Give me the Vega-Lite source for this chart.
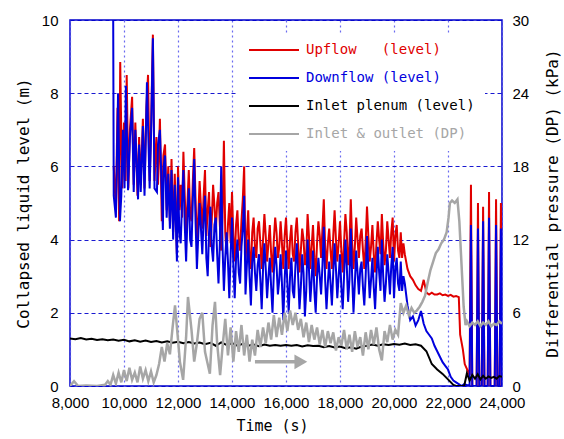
{
  "$schema": "https://vega.github.io/schema/vega-lite/v6.json",
  "width": 432,
  "height": 366,
  "autosize": {"type": "none"},
  "padding": {"left": 70, "top": 20, "right": 62, "bottom": 53},
  "datasets": {
    "arrow": [{"t": 14850, "t2": 16550, "v": 0.66}],
    "main": [
      {"s":"U","t":9620,"v":6.0},{"s":"U","t":9700,"v":4.8},{"s":"U","t":9760,"v":7.6},{"s":"U","t":9820,"v":4.5},{"s":"U","t":9860,"v":8.85},{"s":"U","t":9930,"v":5.4},{"s":"U","t":10000,"v":7.2},{"s":"U","t":10060,"v":5.6},{"s":"U","t":10100,"v":8.5},{"s":"U","t":10160,"v":5.4},{"s":"U","t":10220,"v":7.0},{"s":"U","t":10300,"v":7.9},{"s":"U","t":10360,"v":5.5},{"s":"U","t":10420,"v":7.2},{"s":"U","t":10500,"v":5.2},{"s":"U","t":10560,"v":6.8},{"s":"U","t":10620,"v":5.5},{"s":"U","t":10700,"v":7.3},{"s":"U","t":10760,"v":5.4},{"s":"U","t":10830,"v":7.6},{"s":"U","t":10890,"v":8.5},{"s":"U","t":10950,"v":5.6},{"s":"U","t":11000,"v":7.0},{"s":"U","t":11070,"v":9.6},{"s":"U","t":11130,"v":5.6},{"s":"U","t":11200,"v":6.8},{"s":"U","t":11260,"v":5.5},{"s":"U","t":11330,"v":7.3},{"s":"U","t":11400,"v":4.5},{"s":"U","t":11460,"v":6.3},{"s":"U","t":11520,"v":6.6},{"s":"U","t":11580,"v":4.8},{"s":"U","t":11640,"v":6.0},{"s":"U","t":11700,"v":4.5},{"s":"U","t":11760,"v":6.2},{"s":"U","t":11820,"v":4.2},{"s":"U","t":11880,"v":5.8},{"s":"U","t":11960,"v":3.6},
      {"s":"U","t":12000,"v":6.0},{"s":"U","t":12050,"v":4.8},{"s":"U","t":12100,"v":5.5},{"s":"U","t":12150,"v":4.6},{"s":"U","t":12200,"v":6.4},{"s":"U","t":12250,"v":5.2},{"s":"U","t":12300,"v":4.2},{"s":"U","t":12350,"v":5.0},{"s":"U","t":12400,"v":5.9},{"s":"U","t":12450,"v":4.7},{"s":"U","t":12500,"v":4.5},{"s":"U","t":12550,"v":5.6},{"s":"U","t":12600,"v":6.5},{"s":"U","t":12650,"v":5.1},{"s":"U","t":12700,"v":4.0},{"s":"U","t":12750,"v":4.6},{"s":"U","t":12800,"v":5.6},{"s":"U","t":12850,"v":4.9},{"s":"U","t":12900,"v":4.3},{"s":"U","t":12950,"v":5.2},{"s":"U","t":13000,"v":5.9},{"s":"U","t":13050,"v":4.1},{"s":"U","t":13100,"v":4.8},{"s":"U","t":13150,"v":5.3},{"s":"U","t":13200,"v":3.8},{"s":"U","t":13250,"v":4.5},{"s":"U","t":13300,"v":5.5},{"s":"U","t":13350,"v":4.9},{"s":"U","t":13400,"v":4.2},{"s":"U","t":13450,"v":5.0},{"s":"U","t":13500,"v":5.3},{"s":"U","t":13550,"v":4.4},{"s":"U","t":13600,"v":3.7},{"s":"U","t":13650,"v":4.6},{"s":"U","t":13700,"v":6.7},{"s":"U","t":13750,"v":4.2},{"s":"U","t":13800,"v":3.6},{"s":"U","t":13850,"v":4.4},{"s":"U","t":13900,"v":5.0},{"s":"U","t":13950,"v":3.9},
      {"s":"U","t":14000,"v":5.3},{"s":"U","t":14050,"v":4.1},{"s":"U","t":14100,"v":3.4},{"s":"U","t":14150,"v":4.4},{"s":"U","t":14200,"v":4.8},{"s":"U","t":14250,"v":3.9},{"s":"U","t":14300,"v":3.7},{"s":"U","t":14350,"v":4.5},{"s":"U","t":14400,"v":5.1},{"s":"U","t":14450,"v":6.0},{"s":"U","t":14500,"v":3.4},{"s":"U","t":14550,"v":4.1},{"s":"U","t":14600,"v":4.8},{"s":"U","t":14650,"v":3.6},{"s":"U","t":14700,"v":3.2},{"s":"U","t":14750,"v":4.2},{"s":"U","t":14800,"v":4.6},{"s":"U","t":14850,"v":3.8},{"s":"U","t":14900,"v":3.5},{"s":"U","t":14950,"v":4.3},{"s":"U","t":15000,"v":4.5},{"s":"U","t":15050,"v":3.9},{"s":"U","t":15100,"v":3.2},{"s":"U","t":15150,"v":4.0},{"s":"U","t":15200,"v":4.7},{"s":"U","t":15250,"v":4.1},{"s":"U","t":15300,"v":3.4},{"s":"U","t":15350,"v":3.9},{"s":"U","t":15400,"v":4.4},{"s":"U","t":15450,"v":3.6},{"s":"U","t":15500,"v":3.1},{"s":"U","t":15550,"v":4.0},{"s":"U","t":15600,"v":4.6},{"s":"U","t":15650,"v":4.2},{"s":"U","t":15700,"v":3.5},{"s":"U","t":15750,"v":3.8},{"s":"U","t":15800,"v":4.5},{"s":"U","t":15850,"v":3.9},{"s":"U","t":15900,"v":3.2},{"s":"U","t":15950,"v":4.1},
      {"s":"U","t":16000,"v":4.6},{"s":"U","t":16050,"v":3.8},{"s":"U","t":16100,"v":3.2},{"s":"U","t":16150,"v":4.0},{"s":"U","t":16200,"v":4.4},{"s":"U","t":16250,"v":3.6},{"s":"U","t":16300,"v":3.4},{"s":"U","t":16350,"v":4.2},{"s":"U","t":16400,"v":4.6},{"s":"U","t":16450,"v":3.9},{"s":"U","t":16500,"v":3.1},{"s":"U","t":16550,"v":3.7},{"s":"U","t":16600,"v":4.3},{"s":"U","t":16650,"v":4.0},{"s":"U","t":16700,"v":3.3},{"s":"U","t":16750,"v":3.6},{"s":"U","t":16800,"v":4.7},{"s":"U","t":16850,"v":4.1},{"s":"U","t":16900,"v":3.2},{"s":"U","t":16950,"v":3.8},{"s":"U","t":17000,"v":4.4},{"s":"U","t":17050,"v":3.5},{"s":"U","t":17100,"v":3.0},{"s":"U","t":17150,"v":3.9},{"s":"U","t":17200,"v":4.5},{"s":"U","t":17250,"v":4.1},{"s":"U","t":17300,"v":3.5},{"s":"U","t":17350,"v":4.3},{"s":"U","t":17400,"v":5.1},{"s":"U","t":17450,"v":3.8},{"s":"U","t":17500,"v":3.2},{"s":"U","t":17550,"v":3.9},{"s":"U","t":17600,"v":4.3},{"s":"U","t":17650,"v":3.7},{"s":"U","t":17700,"v":3.2},{"s":"U","t":17750,"v":4.1},{"s":"U","t":17800,"v":4.8},{"s":"U","t":17850,"v":4.0},{"s":"U","t":17900,"v":3.4},{"s":"U","t":17950,"v":3.9},
      {"s":"U","t":18000,"v":4.5},{"s":"U","t":18050,"v":3.7},{"s":"U","t":18100,"v":3.1},{"s":"U","t":18150,"v":3.9},{"s":"U","t":18200,"v":4.7},{"s":"U","t":18250,"v":4.2},{"s":"U","t":18300,"v":3.3},{"s":"U","t":18350,"v":3.8},{"s":"U","t":18400,"v":5.1},{"s":"U","t":18450,"v":3.9},{"s":"U","t":18500,"v":3.2},{"s":"U","t":18550,"v":3.8},{"s":"U","t":18600,"v":4.6},{"s":"U","t":18650,"v":4.0},{"s":"U","t":18700,"v":3.5},{"s":"U","t":18750,"v":4.1},{"s":"U","t":18800,"v":4.3},{"s":"U","t":18850,"v":3.7},{"s":"U","t":18900,"v":3.2},{"s":"U","t":18950,"v":3.9},{"s":"U","t":19000,"v":4.9},{"s":"U","t":19050,"v":4.1},{"s":"U","t":19100,"v":3.4},{"s":"U","t":19150,"v":3.8},{"s":"U","t":19200,"v":4.4},{"s":"U","t":19250,"v":3.6},{"s":"U","t":19300,"v":3.1},{"s":"U","t":19350,"v":3.9},{"s":"U","t":19400,"v":4.5},{"s":"U","t":19450,"v":4.0},{"s":"U","t":19500,"v":3.6},{"s":"U","t":19550,"v":4.7},{"s":"U","t":19600,"v":3.9},{"s":"U","t":19650,"v":3.3},{"s":"U","t":19700,"v":3.7},{"s":"U","t":19750,"v":4.5},{"s":"U","t":19800,"v":4.0},{"s":"U","t":19850,"v":3.5},{"s":"U","t":19900,"v":4.2},{"s":"U","t":19950,"v":4.6},
      {"s":"U","t":20000,"v":3.4},{"s":"U","t":20050,"v":4.1},{"s":"U","t":20100,"v":4.4},{"s":"U","t":20150,"v":3.7},{"s":"U","t":20200,"v":3.5},{"s":"U","t":20250,"v":4.2},{"s":"U","t":20300,"v":3.5},{"s":"U","t":20350,"v":3.9},{"s":"U","t":20400,"v":3.6},
      {"s":"U","t":20500,"v":3.2},{"s":"U","t":20600,"v":3.0},{"s":"U","t":20700,"v":2.9},{"s":"U","t":20800,"v":2.75},{"s":"U","t":20900,"v":2.65},{"s":"U","t":21000,"v":2.6},{"s":"U","t":21100,"v":2.9},{"s":"U","t":21200,"v":2.55},{"s":"U","t":21300,"v":2.5},{"s":"U","t":21400,"v":2.55},{"s":"U","t":21500,"v":2.5},{"s":"U","t":21600,"v":2.5},{"s":"U","t":21700,"v":2.53},{"s":"U","t":21800,"v":2.48},{"s":"U","t":21900,"v":2.5},{"s":"U","t":22000,"v":2.46},{"s":"U","t":22100,"v":2.49},{"s":"U","t":22200,"v":2.44},{"s":"U","t":22300,"v":2.46},{"s":"U","t":22400,"v":2.43},{"s":"U","t":22450,"v":1.4},{"s":"U","t":22550,"v":1.0},{"s":"U","t":22620,"v":0.6},{"s":"U","t":22800,"v":0.3},{"s":"U","t":22850,"v":5.5},{"s":"U","t":22900,"v":0},{"s":"U","t":23060,"v":0},{"s":"U","t":23110,"v":5.0},{"s":"U","t":23160,"v":0},{"s":"U","t":23250,"v":0},{"s":"U","t":23300,"v":4.9},{"s":"U","t":23350,"v":0},{"s":"U","t":23470,"v":0},{"s":"U","t":23520,"v":5.3},{"s":"U","t":23570,"v":0},{"s":"U","t":23730,"v":0},{"s":"U","t":23780,"v":5.1},{"s":"U","t":23830,"v":0},{"s":"U","t":23910,"v":0},{"s":"U","t":23960,"v":5.0},{"s":"U","t":24000,"v":0.2},
      {"s":"D","t":9600,"v":10},{"s":"D","t":9620,"v":5.2},{"s":"D","t":9700,"v":4.6},{"s":"D","t":9780,"v":8.0},{"s":"D","t":9850,"v":4.5},{"s":"D","t":9900,"v":5.2},{"s":"D","t":9960,"v":7.0},{"s":"D","t":10020,"v":5.4},{"s":"D","t":10070,"v":8.2},{"s":"D","t":10150,"v":5.35},{"s":"D","t":10220,"v":6.8},{"s":"D","t":10300,"v":7.6},{"s":"D","t":10360,"v":5.3},{"s":"D","t":10420,"v":7.0},{"s":"D","t":10520,"v":5.1},{"s":"D","t":10560,"v":6.6},{"s":"D","t":10620,"v":5.3},{"s":"D","t":10700,"v":7.1},{"s":"D","t":10760,"v":5.2},{"s":"D","t":10850,"v":8.3},{"s":"D","t":10950,"v":5.4},{"s":"D","t":11000,"v":6.8},{"s":"D","t":11070,"v":9.5},{"s":"D","t":11130,"v":5.4},{"s":"D","t":11220,"v":5.3},{"s":"D","t":11260,"v":6.6},{"s":"D","t":11330,"v":7.0},{"s":"D","t":11440,"v":4.26},{"s":"D","t":11470,"v":6.0},{"s":"D","t":11520,"v":6.3},{"s":"D","t":11580,"v":4.6},{"s":"D","t":11640,"v":5.8},{"s":"D","t":11700,"v":4.3},{"s":"D","t":11760,"v":5.9},{"s":"D","t":11820,"v":4.0},{"s":"D","t":11880,"v":5.5},{"s":"D","t":11960,"v":3.4},
      {"s":"D","t":12000,"v":5.7},{"s":"D","t":12050,"v":4.2},{"s":"D","t":12100,"v":3.9},{"s":"D","t":12150,"v":5.0},{"s":"D","t":12200,"v":5.9},{"s":"D","t":12250,"v":4.4},{"s":"D","t":12300,"v":3.4},{"s":"D","t":12350,"v":4.6},{"s":"D","t":12400,"v":5.4},{"s":"D","t":12450,"v":4.0},{"s":"D","t":12500,"v":3.8},{"s":"D","t":12550,"v":5.1},{"s":"D","t":12600,"v":6.2},{"s":"D","t":12650,"v":4.5},{"s":"D","t":12700,"v":3.2},{"s":"D","t":12750,"v":4.1},{"s":"D","t":12800,"v":5.0},{"s":"D","t":12850,"v":4.3},{"s":"D","t":12900,"v":3.6},{"s":"D","t":12950,"v":4.6},{"s":"D","t":13000,"v":5.2},{"s":"D","t":13050,"v":3.5},{"s":"D","t":13100,"v":3.0},{"s":"D","t":13150,"v":4.2},{"s":"D","t":13200,"v":4.9},{"s":"D","t":13250,"v":3.8},{"s":"D","t":13300,"v":3.4},{"s":"D","t":13350,"v":4.4},{"s":"D","t":13400,"v":4.6},{"s":"D","t":13450,"v":3.6},{"s":"D","t":13500,"v":2.8},{"s":"D","t":13550,"v":3.9},{"s":"D","t":13600,"v":6.0},{"s":"D","t":13650,"v":3.8},{"s":"D","t":13700,"v":2.6},{"s":"D","t":13750,"v":3.5},{"s":"D","t":13800,"v":4.2},{"s":"D","t":13850,"v":3.4},{"s":"D","t":13900,"v":2.4},{"s":"D","t":13950,"v":3.6},
      {"s":"D","t":14000,"v":4.6},{"s":"D","t":14050,"v":3.3},{"s":"D","t":14100,"v":2.4},{"s":"D","t":14150,"v":3.5},{"s":"D","t":14200,"v":4.0},{"s":"D","t":14250,"v":3.1},{"s":"D","t":14300,"v":2.8},{"s":"D","t":14350,"v":3.8},{"s":"D","t":14400,"v":4.3},{"s":"D","t":14450,"v":5.2},{"s":"D","t":14500,"v":2.5},{"s":"D","t":14550,"v":3.3},{"s":"D","t":14600,"v":4.0},{"s":"D","t":14650,"v":3.0},{"s":"D","t":14700,"v":2.2},{"s":"D","t":14750,"v":3.4},{"s":"D","t":14800,"v":3.8},{"s":"D","t":14850,"v":3.1},{"s":"D","t":14900,"v":2.6},{"s":"D","t":14950,"v":3.3},{"s":"D","t":15000,"v":3.6},{"s":"D","t":15050,"v":2.9},{"s":"D","t":15100,"v":2.1},{"s":"D","t":15150,"v":3.2},{"s":"D","t":15200,"v":3.9},{"s":"D","t":15250,"v":3.2},{"s":"D","t":15300,"v":2.4},{"s":"D","t":15350,"v":3.0},{"s":"D","t":15400,"v":3.5},{"s":"D","t":15450,"v":2.7},{"s":"D","t":15500,"v":2.0},{"s":"D","t":15550,"v":3.1},{"s":"D","t":15600,"v":3.8},{"s":"D","t":15650,"v":3.3},{"s":"D","t":15700,"v":2.5},{"s":"D","t":15750,"v":2.9},{"s":"D","t":15800,"v":3.6},{"s":"D","t":15850,"v":2.8},{"s":"D","t":15900,"v":1.8},{"s":"D","t":15950,"v":2.9},
      {"s":"D","t":16000,"v":3.7},{"s":"D","t":16050,"v":2.8},{"s":"D","t":16100,"v":2.0},{"s":"D","t":16150,"v":3.0},{"s":"D","t":16200,"v":3.5},{"s":"D","t":16250,"v":2.6},{"s":"D","t":16300,"v":2.4},{"s":"D","t":16350,"v":3.3},{"s":"D","t":16400,"v":3.9},{"s":"D","t":16450,"v":3.0},{"s":"D","t":16500,"v":2.1},{"s":"D","t":16550,"v":2.7},{"s":"D","t":16600,"v":3.6},{"s":"D","t":16650,"v":3.1},{"s":"D","t":16700,"v":1.9},{"s":"D","t":16750,"v":2.6},{"s":"D","t":16800,"v":4.0},{"s":"D","t":16850,"v":3.2},{"s":"D","t":16900,"v":2.3},{"s":"D","t":16950,"v":2.9},{"s":"D","t":17000,"v":3.7},{"s":"D","t":17050,"v":2.6},{"s":"D","t":17100,"v":2.0},{"s":"D","t":17150,"v":3.0},{"s":"D","t":17200,"v":3.5},{"s":"D","t":17250,"v":3.0},{"s":"D","t":17300,"v":2.5},{"s":"D","t":17350,"v":3.3},{"s":"D","t":17400,"v":4.35},{"s":"D","t":17450,"v":2.9},{"s":"D","t":17500,"v":2.1},{"s":"D","t":17550,"v":2.8},{"s":"D","t":17600,"v":3.4},{"s":"D","t":17650,"v":2.8},{"s":"D","t":17700,"v":2.2},{"s":"D","t":17750,"v":3.1},{"s":"D","t":17800,"v":3.9},{"s":"D","t":17850,"v":3.2},{"s":"D","t":17900,"v":2.4},{"s":"D","t":17950,"v":3.0},
      {"s":"D","t":18000,"v":3.6},{"s":"D","t":18050,"v":2.7},{"s":"D","t":18100,"v":2.1},{"s":"D","t":18150,"v":3.0},{"s":"D","t":18200,"v":4.0},{"s":"D","t":18250,"v":3.3},{"s":"D","t":18300,"v":2.3},{"s":"D","t":18350,"v":2.9},{"s":"D","t":18400,"v":4.3},{"s":"D","t":18450,"v":3.0},{"s":"D","t":18500,"v":2.0},{"s":"D","t":18550,"v":2.8},{"s":"D","t":18600,"v":3.7},{"s":"D","t":18650,"v":3.1},{"s":"D","t":18700,"v":2.5},{"s":"D","t":18750,"v":3.2},{"s":"D","t":18800,"v":3.4},{"s":"D","t":18850,"v":2.7},{"s":"D","t":18900,"v":2.2},{"s":"D","t":18950,"v":3.0},{"s":"D","t":19000,"v":4.1},{"s":"D","t":19050,"v":3.2},{"s":"D","t":19100,"v":2.4},{"s":"D","t":19150,"v":2.9},{"s":"D","t":19200,"v":3.5},{"s":"D","t":19250,"v":2.7},{"s":"D","t":19300,"v":2.1},{"s":"D","t":19350,"v":3.0},{"s":"D","t":19400,"v":3.8},{"s":"D","t":19450,"v":3.1},{"s":"D","t":19500,"v":2.6},{"s":"D","t":19550,"v":4.0},{"s":"D","t":19600,"v":3.0},{"s":"D","t":19650,"v":2.3},{"s":"D","t":19700,"v":2.8},{"s":"D","t":19750,"v":3.6},{"s":"D","t":19800,"v":3.1},{"s":"D","t":19850,"v":2.5},{"s":"D","t":19900,"v":3.3},{"s":"D","t":19950,"v":3.8},
      {"s":"D","t":20000,"v":2.4},{"s":"D","t":20050,"v":3.2},{"s":"D","t":20100,"v":3.5},{"s":"D","t":20150,"v":2.8},{"s":"D","t":20200,"v":2.6},{"s":"D","t":20250,"v":3.4},{"s":"D","t":20300,"v":2.6},{"s":"D","t":20350,"v":3.0},{"s":"D","t":20400,"v":2.8},
      {"s":"D","t":20500,"v":2.2},{"s":"D","t":20600,"v":1.8},{"s":"D","t":20700,"v":1.9},{"s":"D","t":20800,"v":1.65},{"s":"D","t":20900,"v":1.8},{"s":"D","t":21000,"v":2.05},{"s":"D","t":21100,"v":1.7},{"s":"D","t":21200,"v":1.5},{"s":"D","t":21300,"v":1.4},{"s":"D","t":21400,"v":1.3},{"s":"D","t":21500,"v":1.1},{"s":"D","t":21600,"v":0.95},{"s":"D","t":21700,"v":0.8},{"s":"D","t":21800,"v":0.65},{"s":"D","t":21900,"v":0.55},{"s":"D","t":22000,"v":0.45},{"s":"D","t":22100,"v":0.25},{"s":"D","t":22200,"v":0.15},{"s":"D","t":22300,"v":0.1},{"s":"D","t":22400,"v":0.05},{"s":"D","t":22500,"v":0},{"s":"D","t":22600,"v":0.05},{"s":"D","t":22800,"v":0},{"s":"D","t":22850,"v":4.4},{"s":"D","t":22900,"v":0},{"s":"D","t":23060,"v":0},{"s":"D","t":23110,"v":4.3},{"s":"D","t":23160,"v":0},{"s":"D","t":23250,"v":0},{"s":"D","t":23300,"v":4.5},{"s":"D","t":23350,"v":0},{"s":"D","t":23470,"v":0},{"s":"D","t":23520,"v":4.6},{"s":"D","t":23570,"v":0},{"s":"D","t":23730,"v":0},{"s":"D","t":23780,"v":4.4},{"s":"D","t":23830,"v":0},{"s":"D","t":23910,"v":0},{"s":"D","t":23960,"v":4.3},{"s":"D","t":24000,"v":0},
      {"s":"P","t":8000,"v":1.3},{"s":"P","t":8200,"v":1.28},{"s":"P","t":8400,"v":1.31},{"s":"P","t":8600,"v":1.27},{"s":"P","t":8800,"v":1.29},{"s":"P","t":9000,"v":1.26},{"s":"P","t":9200,"v":1.28},{"s":"P","t":9400,"v":1.25},{"s":"P","t":9600,"v":1.27},{"s":"P","t":9800,"v":1.24},{"s":"P","t":10000,"v":1.26},{"s":"P","t":10200,"v":1.22},{"s":"P","t":10400,"v":1.25},{"s":"P","t":10600,"v":1.21},{"s":"P","t":10800,"v":1.24},{"s":"P","t":11000,"v":1.2},{"s":"P","t":11200,"v":1.23},{"s":"P","t":11400,"v":1.19},{"s":"P","t":11600,"v":1.22},{"s":"P","t":11800,"v":1.18},{"s":"P","t":12000,"v":1.21},{"s":"P","t":12200,"v":1.17},{"s":"P","t":12400,"v":1.2},{"s":"P","t":12600,"v":1.16},{"s":"P","t":12800,"v":1.19},{"s":"P","t":13000,"v":1.14},{"s":"P","t":13200,"v":1.18},{"s":"P","t":13400,"v":1.1},{"s":"P","t":13600,"v":1.19},{"s":"P","t":13800,"v":1.12},{"s":"P","t":14000,"v":1.17},{"s":"P","t":14200,"v":1.1},{"s":"P","t":14400,"v":1.15},{"s":"P","t":14600,"v":1.1},{"s":"P","t":14800,"v":1.13},{"s":"P","t":15000,"v":1.09},{"s":"P","t":15200,"v":1.13},{"s":"P","t":15400,"v":1.1},{"s":"P","t":15600,"v":1.12},{"s":"P","t":15800,"v":1.1},{"s":"P","t":16000,"v":1.12},{"s":"P","t":16200,"v":1.1},{"s":"P","t":16400,"v":1.12},{"s":"P","t":16600,"v":1.08},{"s":"P","t":16800,"v":1.11},{"s":"P","t":17000,"v":1.09},{"s":"P","t":17200,"v":1.1},{"s":"P","t":17400,"v":1.06},{"s":"P","t":17600,"v":1.09},{"s":"P","t":17800,"v":1.05},{"s":"P","t":18000,"v":1.08},{"s":"P","t":18200,"v":1.03},{"s":"P","t":18400,"v":1.06},{"s":"P","t":18600,"v":1.02},{"s":"P","t":18800,"v":1.08},{"s":"P","t":19000,"v":1.1},{"s":"P","t":19200,"v":1.13},{"s":"P","t":19400,"v":1.1},{"s":"P","t":19600,"v":1.14},{"s":"P","t":19800,"v":1.12},{"s":"P","t":20000,"v":1.15},{"s":"P","t":20200,"v":1.13},{"s":"P","t":20400,"v":1.16},{"s":"P","t":20600,"v":1.12},{"s":"P","t":20800,"v":1.14},{"s":"P","t":21000,"v":1.1},{"s":"P","t":21200,"v":0.95},{"s":"P","t":21400,"v":0.6},{"s":"P","t":21600,"v":0.45},{"s":"P","t":21800,"v":0.33},{"s":"P","t":22000,"v":0.18},{"s":"P","t":22200,"v":0.03},{"s":"P","t":22300,"v":0},{"s":"P","t":22600,"v":0},{"s":"P","t":22700,"v":0.35},{"s":"P","t":22800,"v":0.15},{"s":"P","t":22900,"v":0.3},{"s":"P","t":23000,"v":0.2},{"s":"P","t":23100,"v":0.32},{"s":"P","t":23200,"v":0.18},{"s":"P","t":23300,"v":0.28},{"s":"P","t":23400,"v":0.2},{"s":"P","t":23500,"v":0.26},{"s":"P","t":23600,"v":0.22},{"s":"P","t":23700,"v":0.25},{"s":"P","t":23800,"v":0.2},{"s":"P","t":23900,"v":0.27},{"s":"P","t":24000,"v":0.25},
      {"s":"G","t":8000,"v":0},{"s":"G","t":8150,"v":0.4},{"s":"G","t":8300,"v":0},{"s":"G","t":8600,"v":0.05},{"s":"G","t":9000,"v":0},{"s":"G","t":9300,"v":0.1},{"s":"G","t":9400,"v":0.4},{"s":"G","t":9500,"v":0.1},{"s":"G","t":9600,"v":0.9},{"s":"G","t":9700,"v":0.2},{"s":"G","t":9800,"v":1.1},{"s":"G","t":9900,"v":0.3},{"s":"G","t":10000,"v":1.3},{"s":"G","t":10100,"v":0.4},{"s":"G","t":10200,"v":1.5},{"s":"G","t":10300,"v":0.5},{"s":"G","t":10400,"v":1.1},{"s":"G","t":10500,"v":0.3},{"s":"G","t":10600,"v":1.6},{"s":"G","t":10700,"v":0.6},{"s":"G","t":10800,"v":1.3},{"s":"G","t":10900,"v":0.4},{"s":"G","t":11000,"v":1.2},{"s":"G","t":11100,"v":0.3},{"s":"G","t":11200,"v":0.9},{"s":"G","t":11300,"v":1.8},{"s":"G","t":11400,"v":3.2},{"s":"G","t":11500,"v":2.0},{"s":"G","t":11600,"v":3.5},{"s":"G","t":11700,"v":2.6},{"s":"G","t":11800,"v":4.8},{"s":"G","t":11890,"v":6.6},{"s":"G","t":12000,"v":3.8},{"s":"G","t":12070,"v":2.0},{"s":"G","t":12190,"v":0.5},{"s":"G","t":12300,"v":4.0},{"s":"G","t":12370,"v":7.3},{"s":"G","t":12500,"v":4.6},{"s":"G","t":12600,"v":2.0},{"s":"G","t":12700,"v":3.5},{"s":"G","t":12800,"v":5.5},{"s":"G","t":12900,"v":6.0},{"s":"G","t":13000,"v":2.8},{"s":"G","t":13100,"v":1.8},{"s":"G","t":13180,"v":1.0},{"s":"G","t":13280,"v":5.0},{"s":"G","t":13370,"v":6.9},{"s":"G","t":13450,"v":3.5},{"s":"G","t":13560,"v":0.9},{"s":"G","t":13650,"v":3.2},{"s":"G","t":13750,"v":5.5},{"s":"G","t":13850,"v":2.5},{"s":"G","t":13950,"v":4.8},{"s":"G","t":14050,"v":2.0},{"s":"G","t":14150,"v":4.5},{"s":"G","t":14250,"v":2.8},{"s":"G","t":14350,"v":5.0},{"s":"G","t":14450,"v":2.5},{"s":"G","t":14550,"v":4.2},{"s":"G","t":14650,"v":2.0},{"s":"G","t":14750,"v":3.8},{"s":"G","t":14850,"v":2.5},{"s":"G","t":14950,"v":4.6},{"s":"G","t":15050,"v":3.2},{"s":"G","t":15150,"v":4.8},{"s":"G","t":15250,"v":3.5},{"s":"G","t":15350,"v":5.2},{"s":"G","t":15450,"v":3.8},{"s":"G","t":15550,"v":5.8},{"s":"G","t":15650,"v":4.0},{"s":"G","t":15750,"v":5.6},{"s":"G","t":15850,"v":4.2},{"s":"G","t":15950,"v":6.0},{"s":"G","t":16050,"v":4.5},{"s":"G","t":16150,"v":6.2},{"s":"G","t":16250,"v":5.0},{"s":"G","t":16350,"v":6.0},{"s":"G","t":16450,"v":4.6},{"s":"G","t":16550,"v":5.5},{"s":"G","t":16650,"v":4.0},{"s":"G","t":16750,"v":5.2},{"s":"G","t":16850,"v":3.6},{"s":"G","t":16950,"v":5.0},{"s":"G","t":17050,"v":3.8},{"s":"G","t":17150,"v":4.8},{"s":"G","t":17250,"v":3.4},{"s":"G","t":17350,"v":4.6},{"s":"G","t":17450,"v":3.2},{"s":"G","t":17550,"v":4.5},{"s":"G","t":17650,"v":3.5},{"s":"G","t":17750,"v":4.4},{"s":"G","t":17850,"v":2.9},{"s":"G","t":17950,"v":4.0},{"s":"G","t":18050,"v":3.3},{"s":"G","t":18150,"v":4.6},{"s":"G","t":18250,"v":3.0},{"s":"G","t":18350,"v":4.2},{"s":"G","t":18450,"v":2.8},{"s":"G","t":18550,"v":4.5},{"s":"G","t":18650,"v":3.2},{"s":"G","t":18750,"v":4.0},{"s":"G","t":18850,"v":2.5},{"s":"G","t":18950,"v":4.4},{"s":"G","t":19050,"v":3.0},{"s":"G","t":19150,"v":4.6},{"s":"G","t":19250,"v":3.4},{"s":"G","t":19350,"v":4.8},{"s":"G","t":19450,"v":3.0},{"s":"G","t":19550,"v":2.1},{"s":"G","t":19650,"v":4.5},{"s":"G","t":19750,"v":3.6},{"s":"G","t":19850,"v":5.0},{"s":"G","t":19950,"v":3.8},{"s":"G","t":20050,"v":4.6},{"s":"G","t":20150,"v":4.2},{"s":"G","t":20250,"v":6.8},{"s":"G","t":20350,"v":6.0},{"s":"G","t":20450,"v":6.6},{"s":"G","t":20550,"v":5.8},{"s":"G","t":20650,"v":6.4},{"s":"G","t":20750,"v":6.0},{"s":"G","t":20850,"v":6.2},{"s":"G","t":20950,"v":6.5},{"s":"G","t":21050,"v":6.9},{"s":"G","t":21150,"v":7.4},{"s":"G","t":21250,"v":8.5},{"s":"G","t":21350,"v":9.5},{"s":"G","t":21450,"v":10.2},{"s":"G","t":21550,"v":10.9},{"s":"G","t":21650,"v":11.2},{"s":"G","t":21750,"v":11.7},{"s":"G","t":21850,"v":12.0},{"s":"G","t":21950,"v":12.6},{"s":"G","t":22020,"v":13.8},{"s":"G","t":22070,"v":15.0},{"s":"G","t":22150,"v":15.2},{"s":"G","t":22250,"v":15.0},{"s":"G","t":22350,"v":15.3},{"s":"G","t":22420,"v":13.5},{"s":"G","t":22500,"v":10.0},{"s":"G","t":22580,"v":6.5},{"s":"G","t":22650,"v":5.0},{"s":"G","t":22700,"v":5.3},{"s":"G","t":22800,"v":4.9},{"s":"G","t":22900,"v":5.2},{"s":"G","t":23000,"v":5.0},{"s":"G","t":23100,"v":5.3},{"s":"G","t":23200,"v":4.9},{"s":"G","t":23300,"v":5.2},{"s":"G","t":23400,"v":5.0},{"s":"G","t":23500,"v":5.3},{"s":"G","t":23600,"v":4.9},{"s":"G","t":23700,"v":5.1},{"s":"G","t":23800,"v":5.0},{"s":"G","t":23900,"v":5.3},{"s":"G","t":24000,"v":5.1}
    ]
  },
  "config": {
    "view": {"stroke": "#0000cc", "strokeWidth": 1.5},
    "axis": {
      "labelFont": "Liberation Sans",
      "labelFontSize": 15,
      "labelColor": "#000000",
      "titleFont": "DejaVu Sans Mono",
      "titleFontSize": 16,
      "titleFontWeight": "normal",
      "titleColor": "#000000",
      "domain": false,
      "ticks": false,
      "gridWidth": 1.2
    },
    "axisX": {"gridColor": "#5a5aee", "gridDash": [2, 3], "gridOpacity": 0.9, "labelFlush": false},
    "axisY": {"gridColor": "#0000cc", "gridDash": [4, 3], "gridOpacity": 0.9}
  },
  "layer": [
    {
      "layer": [
        {
          "data": {"name": "main"},
          "transform": [{"filter": "datum.s != 'G'"}],
          "mark": {"type": "line", "strokeWidth": 2, "clip": true},
          "encoding": {
            "x": {
              "field": "t", "type": "quantitative", "title": "Time (s)",
              "scale": {"domain": [8000, 24000], "nice": false, "zero": false},
              "axis": {"values": [8000, 10000, 12000, 14000, 16000, 18000, 20000, 22000, 24000], "labelExpr": "format(datum.value, ',.0f')", "labelOverlap": false, "labelFlush": false, "titleFontSize": 15, "grid": true, "labelPadding": 9, "titlePadding": 8, "titleX": 202}
            },
            "y": {
              "field": "v", "type": "quantitative", "title": "Collapsed liquid level (m)",
              "scale": {"domain": [0, 10], "nice": false},
              "axis": {"values": [0, 2, 4, 6, 8, 10], "grid": true, "labelPadding": 12, "titlePadding": 10}
            },
            "color": {
              "field": "s", "type": "nominal",
              "scale": {"domain": ["U", "D", "P", "G"], "range": ["#e00000", "#0000dd", "#000000", "#a6a6a6"]},
              "legend": {
                "orient": "none", "legendX": 167, "legendY": 13, "padding": 10,
                "fillColor": "#ffffff", "title": null,
                "symbolType": "M-5,0H5", "symbolSize": 100, "symbolStrokeWidth": 2,
                "symbolOffset": 20, "labelOffset": 25,
                "labelFont": "DejaVu Sans Mono", "labelFontSize": 14, "labelLimit": 400,
                "rowPadding": 14,
                "labelExpr": "datum.label == 'U' ? 'Upflow\u00a0\u00a0\u00a0(level)' : datum.label == 'D' ? 'Downflow (level)' : datum.label == 'P' ? 'Inlet plenum (level)' : 'Inlet & outlet (DP)'",
                "encode": {"labels": {"update": {"fill": {"scale": "color", "field": "value"}}}}
              }
            }
          }
        },
        {
          "data": {"name": "arrow"},
          "mark": {"type": "rule", "color": "#a6a6a6", "strokeWidth": 3.5},
          "encoding": {
            "x": {"field": "t", "type": "quantitative", "title": "Time (s)",
              "axis": {"values": [8000, 10000, 12000, 14000, 16000, 18000, 20000, 22000, 24000], "labelExpr": "format(datum.value, ',.0f')", "labelOverlap": false, "labelFlush": false, "titleFontSize": 15, "grid": true, "labelPadding": 9, "titlePadding": 8, "titleX": 202}},
            "x2": {"field": "t2"},
            "y": {"field": "v", "type": "quantitative", "title": "Collapsed liquid level (m)",
              "axis": {"values": [0, 2, 4, 6, 8, 10], "grid": true, "labelPadding": 12, "titlePadding": 10}}
          }
        },
        {
          "data": {"name": "arrow"},
          "mark": {"type": "point", "shape": "triangle-right", "filled": true, "color": "#a6a6a6", "size": 220, "opacity": 1},
          "encoding": {
            "x": {"field": "t2", "type": "quantitative", "title": "Time (s)",
              "axis": {"values": [8000, 10000, 12000, 14000, 16000, 18000, 20000, 22000, 24000], "labelExpr": "format(datum.value, ',.0f')", "labelOverlap": false, "labelFlush": false, "titleFontSize": 15, "grid": true, "labelPadding": 9, "titlePadding": 8, "titleX": 202}},
            "y": {"field": "v", "type": "quantitative", "title": "Collapsed liquid level (m)",
              "axis": {"values": [0, 2, 4, 6, 8, 10], "grid": true, "labelPadding": 12, "titlePadding": 10}}
          }
        }
      ]
    },
    {
      "data": {"name": "main"},
      "transform": [{"filter": "datum.s == 'G'"}],
      "mark": {"type": "line", "strokeWidth": 2.5, "clip": true},
      "encoding": {
        "x": {"field": "t", "type": "quantitative", "title": "Time (s)",
          "axis": {"values": [8000, 10000, 12000, 14000, 16000, 18000, 20000, 22000, 24000], "labelExpr": "format(datum.value, ',.0f')", "labelOverlap": false, "labelFlush": false, "titleFontSize": 15, "grid": true, "labelPadding": 9, "titlePadding": 8, "titleX": 202}},
        "y": {
          "field": "v", "type": "quantitative", "title": "Differential pressure (DP) (kPa)",
          "scale": {"domain": [0, 30], "nice": false},
          "axis": {"orient": "right", "values": [0, 6, 12, 18, 24, 30], "titleAngle": -90, "titleBaseline": "top", "grid": false, "labelPadding": 10, "titlePadding": 16}
        },
        "color": {
          "field": "s", "type": "nominal",
          "scale": {"domain": ["U", "D", "P", "G"], "range": ["#e00000", "#0000dd", "#000000", "#a6a6a6"]}
        }
      }
    }
  ],
  "resolve": {"scale": {"y": "independent"}}
}
